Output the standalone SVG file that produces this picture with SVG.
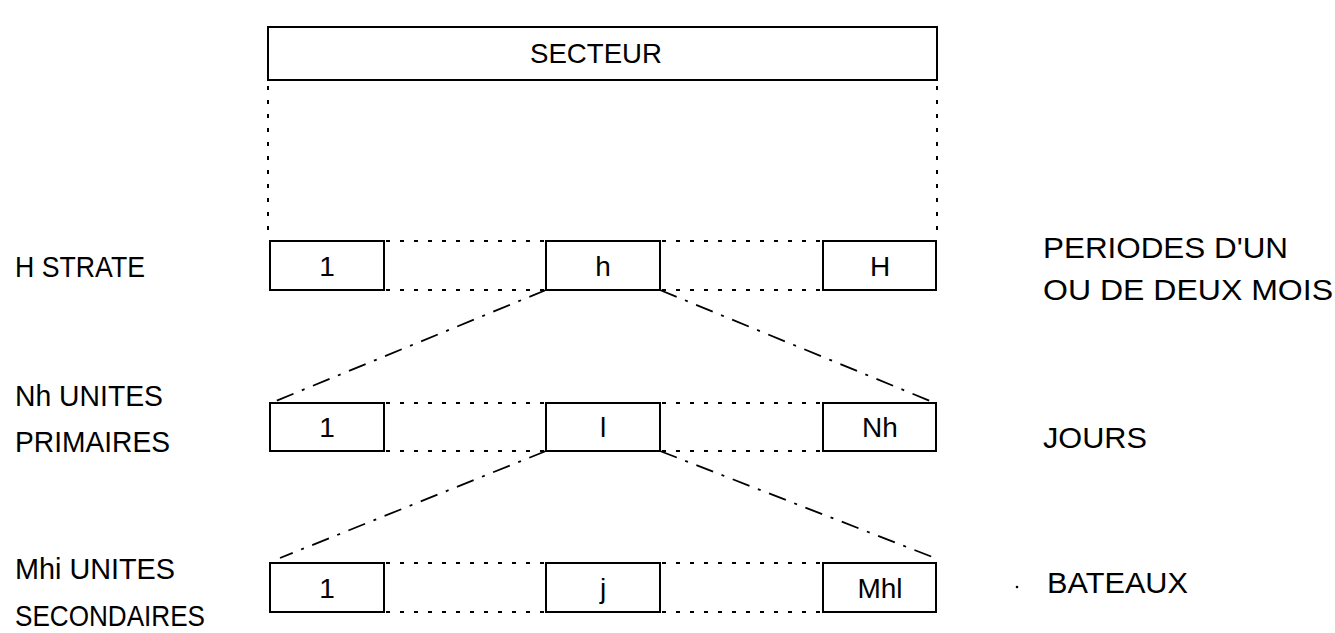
<svg xmlns="http://www.w3.org/2000/svg" width="1335" height="633" viewBox="0 0 1335 633">
  <style>
    .box { fill: #fff; stroke: #000; stroke-width: 2; }
    .dot { fill: none; stroke: #000; stroke-width: 2; stroke-dasharray: 4 10; }
    .dashdot { fill: none; stroke: #000; stroke-width: 1.8; stroke-dasharray: 18 9 3 9; }
    .lbl { font-family: "Liberation Sans", Arial, sans-serif; font-size: 29px; fill: #000; }
    .side { font-family: "Liberation Sans", Arial, sans-serif; font-size: 30px; fill: #000; }
    .in { font-family: "Liberation Sans", Arial, sans-serif; font-size: 28px; fill: #000; text-anchor: middle; }
  </style>

  <!-- connectors -->
  <g id="connectors">
    <!-- sector borders down to the strata row -->
    <line class="dot" x1="268" y1="86" x2="268" y2="240"/>
    <line class="dot" x1="937" y1="86" x2="937" y2="240"/>
    <!-- strata row -->
    <line class="dot" x1="386" y1="241" x2="544" y2="241"/>
    <line class="dot" x1="662" y1="241" x2="821" y2="241"/>
    <line class="dot" x1="386" y1="290" x2="544" y2="290"/>
    <line class="dot" x1="662" y1="290" x2="821" y2="290"/>
    <!-- primary units row -->
    <line class="dot" x1="386" y1="403" x2="544" y2="403"/>
    <line class="dot" x1="662" y1="403" x2="821" y2="403"/>
    <line class="dot" x1="386" y1="451" x2="544" y2="451"/>
    <line class="dot" x1="662" y1="451" x2="821" y2="451"/>
    <!-- secondary units row -->
    <line class="dot" x1="386" y1="563" x2="544" y2="563"/>
    <line class="dot" x1="662" y1="563" x2="821" y2="563"/>
    <line class="dot" x1="386" y1="612" x2="544" y2="612"/>
    <line class="dot" x1="662" y1="612" x2="821" y2="612"/>
    <!-- expansion of stratum h -->
    <line class="dashdot" x1="546" y1="290" x2="271" y2="403"/>
    <line class="dashdot" x1="660" y1="290" x2="935" y2="403"/>
    <!-- expansion of primary unit i -->
    <line class="dashdot" x1="546" y1="451" x2="280" y2="558"/>
    <line class="dashdot" x1="660" y1="451" x2="935" y2="558"/>
  </g>

  <g id="secteur">
    <rect class="box" x="268" y="27" width="669" height="53"/>
    <text class="in" x="596" y="63" textLength="132" lengthAdjust="spacingAndGlyphs">SECTEUR</text>
  </g>

  <g id="strate-1"><rect class="box" x="270" y="241" width="114" height="49"/><text class="in" x="327" y="276">1</text></g>
  <g id="strate-h"><rect class="box" x="546" y="241" width="114" height="49"/><text class="in" x="603" y="276">h</text></g>
  <g id="strate-H"><rect class="box" x="823" y="241" width="113" height="49"/><text class="in" x="880" y="276">H</text></g>

  <g id="primaire-1"><rect class="box" x="270" y="403" width="114" height="48"/><text class="in" x="327" y="437">1</text></g>
  <g id="primaire-i"><rect class="box" x="546" y="403" width="114" height="48"/><text class="in" x="603" y="437">l</text></g>
  <g id="primaire-Nh"><rect class="box" x="823" y="403" width="113" height="48"/><text class="in" x="880" y="437">Nh</text></g>

  <g id="secondaire-1"><rect class="box" x="270" y="563" width="114" height="49"/><text class="in" x="327" y="598">1</text></g>
  <g id="secondaire-j"><rect class="box" x="546" y="563" width="114" height="49"/><text class="in" x="603" y="598">j</text></g>
  <g id="secondaire-Mhi"><rect class="box" x="823" y="563" width="113" height="49"/><text class="in" x="880" y="598">Mhl</text></g>

  <!-- level names -->
  <g id="labels-left">
    <text class="lbl" x="15" y="277" textLength="130" lengthAdjust="spacingAndGlyphs">H STRATE</text>
    <text class="lbl" x="15" y="406" textLength="148" lengthAdjust="spacingAndGlyphs">Nh UNITES</text>
    <text class="lbl" x="15" y="452" textLength="155" lengthAdjust="spacingAndGlyphs">PRIMAIRES</text>
    <text class="lbl" x="15" y="579" textLength="160" lengthAdjust="spacingAndGlyphs">Mhi UNITES</text>
    <text class="lbl" x="15" y="626" textLength="190" lengthAdjust="spacingAndGlyphs">SECONDAIRES</text>
  </g>

  <!-- unit meanings -->
  <g id="labels-right">
    <text class="side" x="1043" y="258" textLength="245" lengthAdjust="spacingAndGlyphs">PERIODES D'UN</text>
    <text class="side" x="1043" y="300" textLength="290" lengthAdjust="spacingAndGlyphs">OU DE DEUX MOIS</text>
    <text class="side" x="1043" y="448" textLength="104" lengthAdjust="spacingAndGlyphs">JOURS</text>
    <text class="side" x="1047" y="593" textLength="141" lengthAdjust="spacingAndGlyphs">BATEAUX</text>
    <circle cx="1017" cy="587" r="1.3" fill="#000"/>
  </g>
</svg>
